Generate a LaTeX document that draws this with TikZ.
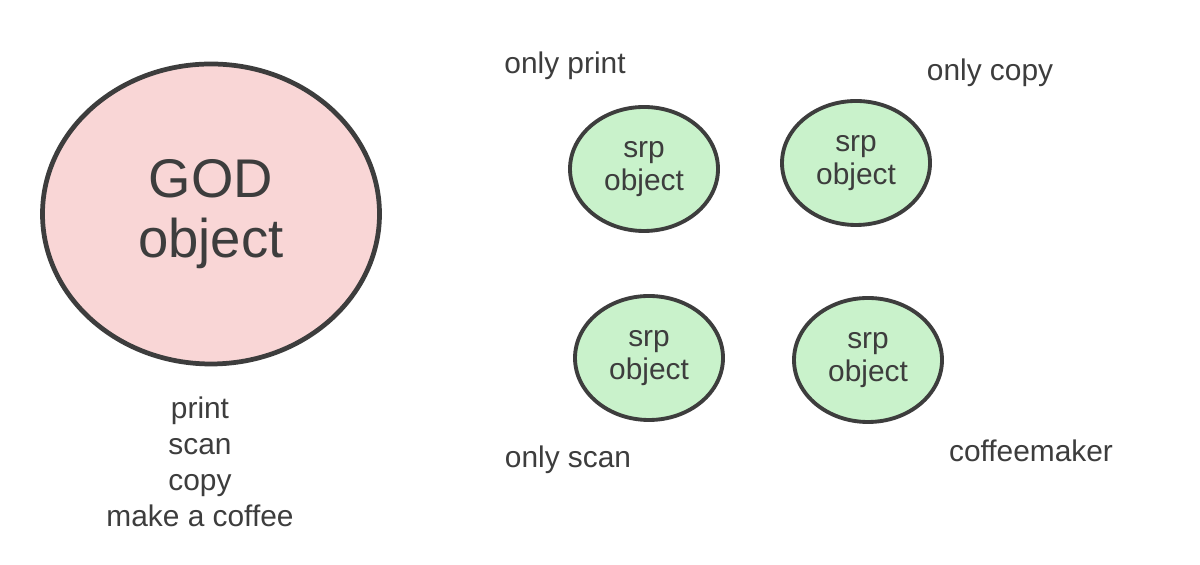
\documentclass[tikz,border=0pt]{standalone}
\usepackage{fontspec}
\setmainfont{Liberation Sans}
\usepackage{tikz}
\usetikzlibrary{shapes,positioning}

\definecolor{inkgray}{HTML}{3D3D3D}
\definecolor{godpink}{HTML}{F9D6D6}
\definecolor{srpgreen}{HTML}{C9F2CB}

\begin{document}
\begin{tikzpicture}[
        godbox/.style={ellipse, draw=inkgray, line width=2.7pt, fill=godpink, minimum width=6.74cm, minimum height=6.0cm, align=center, text=inkgray, font=\fontsize{31}{34}\selectfont},
        srpbox/.style={ellipse, draw=inkgray, line width=2.2pt, fill=srpgreen, minimum width=2.96cm, minimum height=2.48cm, align=center, text=inkgray, inner sep=0pt, font=\fontsize{17}{19}\selectfont},
        label/.style={text=inkgray, align=center, font=\fontsize{17}{20.5}\selectfont}
        ]
        \useasboundingbox[fill=white] (0, 0) rectangle (24, 11.3);

        % God object and what it does
        \node[godbox] (god) at (4.22, 7.02) {GOD\\object};
        \node[label] (godjobs) at (4.00, 2.06) {print\\scan\\copy\\make a coffee};

        % SRP objects
        \node[srpbox] (print) at (12.88, 7.92) {srp\\object};
        \node[srpbox] (copy) at (17.12, 8.04) {srp\\object};
        \node[srpbox] (scan) at (12.98, 4.14) {srp\\object};
        \node[srpbox] (coffee) at (17.36, 4.10) {srp\\object};

        % Labels
        \node[label] (printlabel) at (11.30, 9.98) {only print};
        \node[label] (copylabel) at (19.80, 9.84) {only copy};
        \node[label] (scanlabel) at (11.36, 2.10) {only scan};
        \node[label] (coffeelabel) at (20.62, 2.28) {coffeemaker};

    \end{tikzpicture}
\end{document}
